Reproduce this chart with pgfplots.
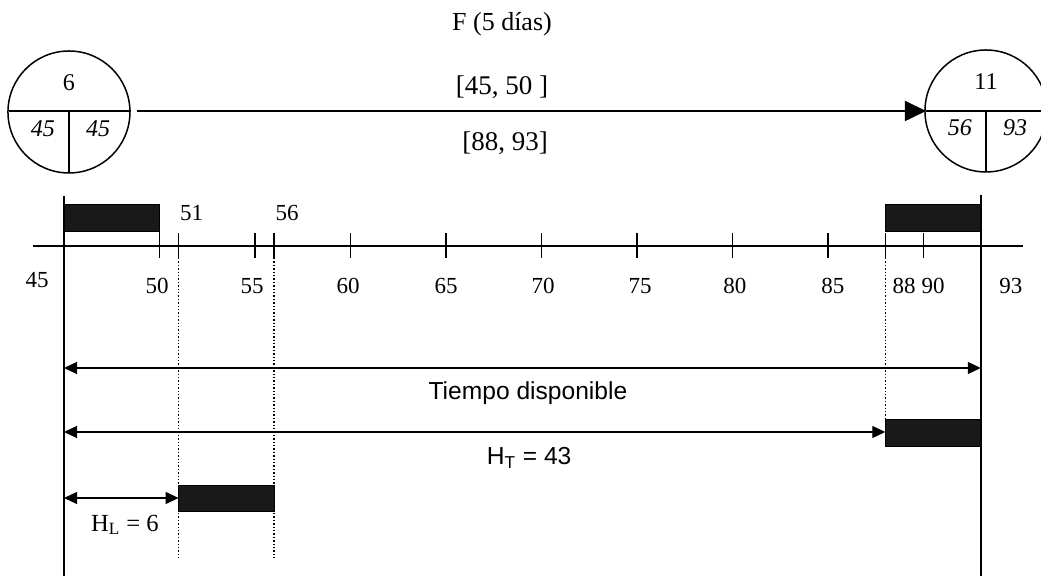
\documentclass[border=0pt]{standalone}
\usepackage{fontspec}
\setmainfont{Liberation Serif}
\newfontfamily\arialf{Liberation Sans}
\usepackage{pgfplots}
\pgfplotsset{compat=1.18}
\usetikzlibrary{arrows.meta}

% 1 px of the reference = 0.5pt; x in days, y in -pixels
\tikzset{
  big/.style={font=\fontsize{13.5}{15}\selectfont},
  tick/.style={font=\fontsize{11.5}{13}\selectfont},
  circ/.style={font=\fontsize{12}{14}\selectfont\itshape},
  bar/.style={fill=black!90, draw=black, line width=0.4pt},
  dbl/.style={{Triangle[length=6.5pt,width=6pt]}-{Triangle[length=6.5pt,width=6pt]}},
}

\begin{document}
\begin{tikzpicture}
\begin{axis}[
  width=520.5pt, height=288pt, scale only axis,
  xmin=41.649, xmax=96.152, ymin=-576, ymax=0,
  axis lines=none, clip=true, clip marker paths=true,
]
\path (rel axis cs:0,0) rectangle (rel axis cs:1,1);
% nodes: circles
\addplot[only marks, mark=o, mark size=30.5pt, line width=0.75pt,
  mark options={fill=none}] coordinates {(45.26,-112) (93.27,-111)};
\addplot[line width=0.8pt] coordinates {(42.12,-111) (48.51,-111)};
\addplot[line width=0.8pt] coordinates {(45.26,-111) (45.26,-173)};
\addplot[line width=0.8pt] coordinates {(90.13,-111) (96.2,-111)};
\addplot[line width=0.8pt] coordinates {(93.27,-111) (93.27,-172)};
% activity arrow
\addplot[line width=0.9pt, -{Triangle[length=10.5pt,width=10pt]}]
  coordinates {(48.82,-111) (90.13,-111)};

\node[font=\fontsize{13}{15}\selectfont] at (axis cs:67.93,-24) {F (5 días)};
\node[big] at (axis cs:67.93,-87) {[45, 50 ]};
\node[big] at (axis cs:68.09,-143) {[88, 93]};
\node[font=\fontsize{12}{14}\selectfont] at (axis cs:45.26,-83) {6};
\node[circ] at (axis cs:43.90,-129) {45};
\node[circ] at (axis cs:46.78,-129) {45};
\node[font=\fontsize{12}{14}\selectfont] at (axis cs:93.27,-82) {11};
\node[circ] at (axis cs:91.91,-128) {56};
\node[circ] at (axis cs:94.79,-128) {93};

% time line
\addplot[line width=0.9pt] coordinates {(43.38,-246) (95.21,-246)};
\addplot[line width=0.8pt, unbounded coords=jump] coordinates {
  (50,-231) (50,-258) (nan,nan)
  (51,-233) (51,-258) (nan,nan)
  (55,-233) (55,-258) (nan,nan)
  (56,-233) (56,-258) (nan,nan)
  (60,-233) (60,-258) (nan,nan)
  (65,-233) (65,-258) (nan,nan)
  (70,-233) (70,-258) (nan,nan)
  (75,-233) (75,-258) (nan,nan)
  (80,-233) (80,-258) (nan,nan)
  (85,-233) (85,-258) (nan,nan)
  (88,-233) (88,-258) (nan,nan)
  (90,-233) (90,-258)
};
% start and end limits
\addplot[line width=1pt] coordinates {(45,-196) (45,-576)};
\addplot[line width=0.8pt] coordinates {(93,-195) (93,-576)};
% early and late windows
\addplot[bar] coordinates {(45,-204) (50,-204) (50,-231) (45,-231)} -- cycle;
\addplot[bar] coordinates {(88,-204) (93,-204) (93,-231) (88,-231)} -- cycle;
% dotted guides
\addplot[line width=0.7pt, densely dotted] coordinates {(51,-258) (51,-558)};
\addplot[line width=0.7pt, densely dotted] coordinates {(56,-258) (56,-558)};
\addplot[line width=0.7pt, densely dotted] coordinates {(88,-258) (88,-418)};

\node[tick] at (axis cs:43.59,-280) {45};
\node[tick] at (axis cs:49.87,-286) {50};
\node[tick] at (axis cs:51.68,-213) {51};
\node[tick] at (axis cs:54.85,-286) {55};
\node[tick] at (axis cs:56.68,-213) {56};
\node[tick] at (axis cs:59.87,-286) {60};
\node[tick] at (axis cs:65.0,-286) {65};
\node[tick] at (axis cs:70.08,-286) {70};
\node[tick] at (axis cs:75.16,-286) {75};
\node[tick] at (axis cs:80.13,-286) {80};
\node[tick] at (axis cs:85.26,-286) {85};
\node[tick] at (axis cs:88.98,-286) {88};
\node[tick] at (axis cs:90.50,-286) {90};
\node[tick] at (axis cs:94.58,-286) {93};

% available time and slacks
\addplot[line width=0.6pt, dbl] coordinates {(45,-368) (93,-368)};
\node[font=\arialf\fontsize{12.3}{14}\selectfont] at (axis cs:69.29,-393) {Tiempo disponible};
\addplot[line width=0.6pt, dbl] coordinates {(45,-432) (88,-432)};
\addplot[bar] coordinates {(88,-419) (93,-419) (93,-446) (88,-446)} -- cycle;
\node[font=\arialf\fontsize{12.3}{14}\selectfont] at (axis cs:69.35,-458) {H\textsubscript{T} = 43};
\addplot[line width=0.6pt, dbl] coordinates {(45,-498) (51,-498)};
\addplot[bar] coordinates {(51,-485) (56,-485) (56,-511) (51,-511)} -- cycle;
\node[font=\fontsize{12.3}{14}\selectfont] at (axis cs:48.19,-525) {H\textsubscript{L} = 6};
\end{axis}
\end{tikzpicture}
\end{document}
